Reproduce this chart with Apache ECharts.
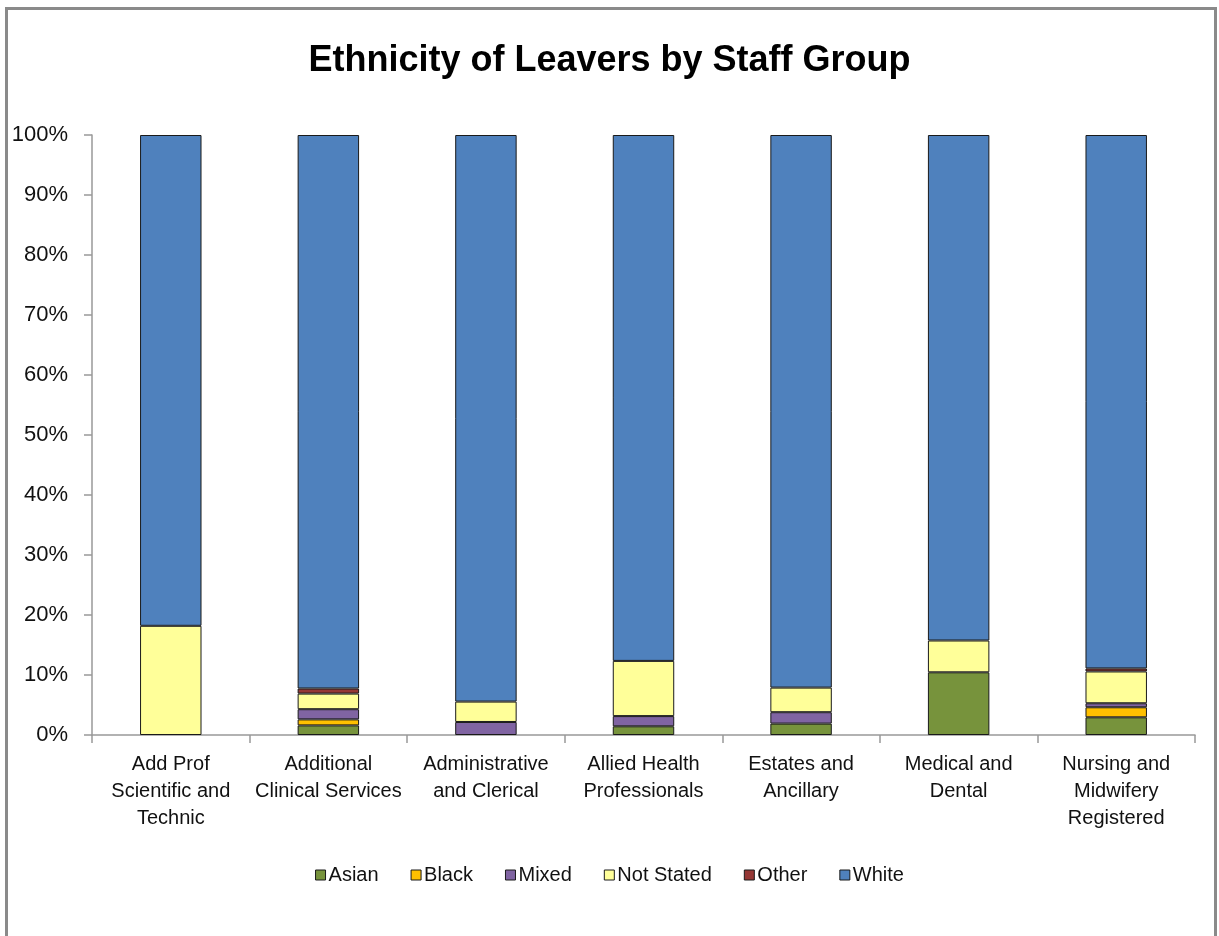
<!DOCTYPE html>
<html>
<head>
<meta charset="utf-8">
<script src="https://cdn.jsdelivr.net/npm/echarts@6/dist/echarts.min.js"></script>
<style>
  html, body { margin: 0; padding: 0; background: #fff; }
  #main { width: 1219px; height: 936px; }
</style>
</head>
<body>
<div id="main"></div>
<script>
var FONT = "'Liberation Sans Narrow', 'Arial Narrow', 'Liberation Sans', sans-serif";

// staff groups
var categories = [
	'Add Prof\nScientific and\nTechnic',
	'Additional\nClinical Services',
	'Administrative\nand Clerical',
	'Allied Health\nProfessionals',
	'Estates and\nAncillary',
	'Medical and\nDental',
	'Nursing and\nMidwifery\nRegistered'
];
// percent of leavers (null = none)
var asian     = [null, 1.6, null, 1.45, 1.9, 10.45, 2.95];
var black     = [null, 1.0, null, null, null, null, 1.67];
var mixed     = [null, 1.7, 2.17, 1.7, 1.9, null, 0.67];
var notStated = [18.2, 2.6, 3.4, 9.2, 4.1, 5.3, 5.3];
var other     = [null, 0.85, null, null, null, null, 0.5];
var white     = [81.8, 92.25, 94.43, 87.65, 92.1, 84.25, 88.91];

var seriesNames = ['Asian', 'Black', 'Mixed', 'Not Stated', 'Other', 'White'];
var seriesData = [asian, black, mixed, notStated, other, white];
var seriesColors = ['#77933C', '#FFC000', '#8064A2', '#FFFF99', '#953735', '#4F81BD'];

var chart = echarts.init(document.getElementById('main'));

var series = [];
for (var i = 0; i < seriesNames.length; i++) {
	series.push({
		name: seriesNames[i],
		type: 'bar',
		stack: 'total',
		barWidth: '39%',
		data: seriesData[i],
		itemStyle: {
			color: seriesColors[i],
			borderColor: '#1a1a1a',
			borderWidth: 1
		}
	});
}

var option = {
	backgroundColor: '#fff',
	animation: false,
	title: {
		text: 'Ethnicity of Leavers by Staff Group',
		left: 'center',
		top: 38,
		textStyle: {
			fontFamily: FONT,
			fontSize: 36,
			fontWeight: 'bold',
			color: '#000'
		}
	},
	legend: {
		data: seriesNames,
		left: 'center',
		top: 860,
		itemWidth: 10,
		itemHeight: 10,
		itemGap: 32,
		icon: 'rect',
		itemStyle: { borderColor: '#1a1a1a', borderWidth: 1 },
		textStyle: { fontFamily: FONT, fontSize: 20, color: '#111', padding: [0, 0, 0, -2] }
	},
	grid: {
		left: 92,
		right: 24,
		top: 135,
		bottom: 201,
		containLabel: false
	},
	xAxis: {
		type: 'category',
		data: categories,
		axisLine: { lineStyle: { color: '#999', width: 1.5 } },
		axisTick: { show: true, length: 8, lineStyle: { color: '#999', width: 1.5 } },
		axisLabel: {
			interval: 0,
			margin: 16,
			fontFamily: FONT,
			fontSize: 20,
			lineHeight: 27,
			color: '#111'
		}
	},
	yAxis: {
		type: 'value',
		min: 0,
		max: 100,
		interval: 10,
		axisLine: { show: true, lineStyle: { color: '#999', width: 1.5 } },
		axisTick: { show: true, length: 8, lineStyle: { color: '#999', width: 1.5 } },
		splitLine: { show: false },
		axisLabel: {
			formatter: '{value}%',
			margin: 24,
			padding: [6, 0, 0, 0],
			fontFamily: FONT,
			fontSize: 22,
			color: '#111'
		}
	},
	graphic: [{
		type: 'rect',
		shape: { x: 6.5, y: 8.5, width: 1209, height: 960 },
		style: { fill: null, stroke: '#8a8a8a', lineWidth: 3 },
		silent: true
	}],
	series: series
};

chart.setOption(option);
</script>
</body>
</html>
